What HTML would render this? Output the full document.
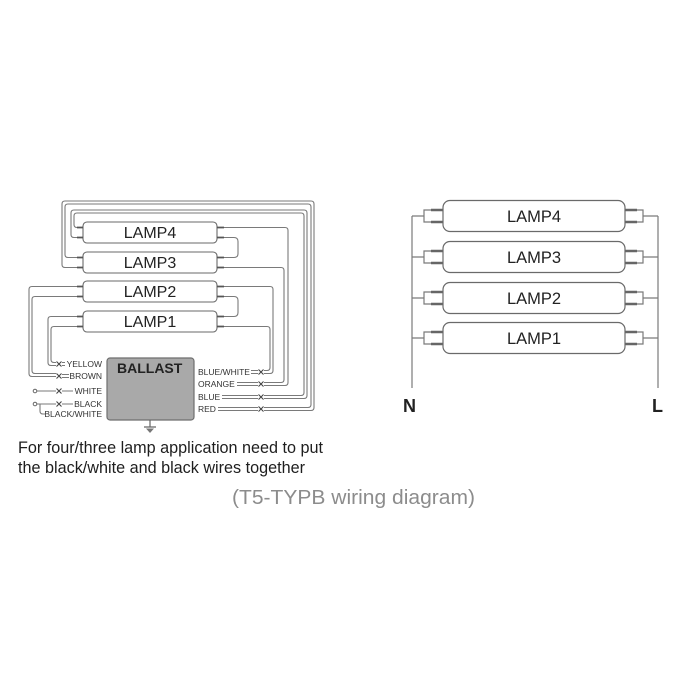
<!DOCTYPE html>
<html><head><meta charset="utf-8"><style>
html,body{margin:0;padding:0;background:#fff;}
svg{display:block;}
text{font-family:"Liberation Sans",Arial,sans-serif;}
</style></head><body>
<svg width="700" height="700" viewBox="0 0 700 700" xmlns="http://www.w3.org/2000/svg">
<rect width="700" height="700" fill="#fff"/>

<!-- LEFT DIAGRAM WIRES -->
<g fill="none" stroke="#7a7a7a" stroke-width="1.1">
  <!-- RED loop (LAMP3 left) -->
  <path d="M77,267.5 H65 Q62,267.5 62,264.5 V204 Q62,201 65,201 H311 Q314,201 314,204 V407.5 Q314,410.5 311,410.5 H264"/>
  <path d="M77,257.5 H68 Q65,257.5 65,254.5 V207 Q65,204 68,204 H308 Q311,204 311,207 V404.5 Q311,407.5 308,407.5 H264"/>
  <!-- BLUE loop (LAMP4 left) -->
  <path d="M77,237.5 H74 Q71,237.5 71,234.5 V213 Q71,210 74,210 H304 Q307,210 307,213 V395.5 Q307,398.5 304,398.5 H264"/>
  <path d="M77,227.5 Q74,227.5 74,224.5 V216 Q74,213 77,213 H301 Q304,213 304,216 V392.5 Q304,395.5 301,395.5 H264"/>
  <!-- ORANGE -->
  <path d="M224,227.5 H285 Q288,227.5 288,230.5 V382.5 Q288,385.5 285,385.5 H264"/>
  <path d="M224,267.5 H281 Q284,267.5 284,270.5 V379.5 Q284,382.5 281,382.5 H264"/>
  <!-- BLUE/WHITE -->
  <path d="M224,286.5 H270 Q273,286.5 273,289.5 V370.5 Q273,373.5 270,373.5 H264"/>
  <path d="M224,326.5 H267 Q270,326.5 270,329.5 V367.5 Q270,370.5 267,370.5 H264"/>
  <!-- jumper loops -->
  <path d="M224,237.5 H234 Q238,237.5 238,241.5 V253.5 Q238,257.5 234,257.5 H224"/>
  <path d="M224,296.5 H234 Q238,296.5 238,300.5 V312.5 Q238,316.5 234,316.5 H224"/>
  <!-- BROWN (LAMP2 left) -->
  <path d="M77,286.5 H32 Q29,286.5 29,289.5 V373.5 Q29,376.5 32,376.5 H56"/>
  <path d="M77,296.5 H35 Q32,296.5 32,299.5 V370.5 Q32,373.5 35,373.5 H56"/>
  <!-- YELLOW (LAMP1 left) -->
  <path d="M77,316.5 H51 Q48,316.5 48,319.5 V362.5 Q48,365.5 51,365.5 H56"/>
  <path d="M77,326.5 H54 Q51,326.5 51,329.5 V359.5 Q51,362.5 54,362.5 H56"/>
  <!-- left short leads after x -->
  <path d="M62,362.5 H65 M62,365.5 H65"/>
  <path d="M62,374.5 H69 M62,377.5 H69"/>
  <!-- WHITE / BLACK -->
  <path d="M37,391 H56 M62,391 H73"/>
  <path d="M37,404 H56 M62,404 H73"/>
  <path d="M40,404 V411 Q40,414 43,414 H45"/>
  <!-- right short leads before x -->
  <path d="M251,370.5 H258 M251,373.5 H258"/>
  <path d="M237,382.5 H258 M237,385.5 H258"/>
  <path d="M222,395.5 H258 M222,398.5 H258"/>
  <path d="M218,407.5 H258 M218,410.5 H258"/>
</g>
<!-- circles -->
<circle cx="35" cy="391" r="1.8" fill="#fff" stroke="#666" stroke-width="1"/>
<circle cx="35" cy="404" r="1.8" fill="#fff" stroke="#666" stroke-width="1"/>
<!-- x marks -->
<g stroke="#444" stroke-width="1.1">
  <path d="M56.5,361.5 L61.5,366.5 M61.5,361.5 L56.5,366.5"/>
  <path d="M56.5,373.5 L61.5,378.5 M61.5,373.5 L56.5,378.5"/>
  <path d="M56.5,388.5 L61.5,393.5 M61.5,388.5 L56.5,393.5"/>
  <path d="M56.5,401.5 L61.5,406.5 M61.5,401.5 L56.5,406.5"/>
  <path d="M258.5,369.5 L263.5,374.5 M263.5,369.5 L258.5,374.5"/>
  <path d="M258.5,381.5 L263.5,386.5 M263.5,381.5 L258.5,386.5"/>
  <path d="M258.5,394.5 L263.5,399.5 M263.5,394.5 L258.5,399.5"/>
  <path d="M258.5,406.5 L263.5,411.5 M263.5,406.5 L258.5,411.5"/>
</g>

<!-- LEFT LAMPS -->
<g fill="#fff" stroke="#6a6a6a" stroke-width="1.1">
  <rect x="83" y="222" width="134" height="21" rx="4"/>
  <rect x="83" y="252" width="134" height="21" rx="4"/>
  <rect x="83" y="281" width="134" height="21" rx="4"/>
  <rect x="83" y="311" width="134" height="21" rx="4"/>
</g>
<!-- pins -->
<g stroke="#555" stroke-width="1.8">
  <path d="M77,227.5 H83 M77,237.5 H83 M217,227.5 H224 M217,237.5 H224"/>
  <path d="M77,257.5 H83 M77,267.5 H83 M217,257.5 H224 M217,267.5 H224"/>
  <path d="M77,286.5 H83 M77,296.5 H83 M217,286.5 H224 M217,296.5 H224"/>
  <path d="M77,316.5 H83 M77,326.5 H83 M217,316.5 H224 M217,326.5 H224"/>
</g>
<g font-size="16" fill="#222" text-anchor="middle">
  <text x="150" y="238">LAMP4</text>
  <text x="150" y="268">LAMP3</text>
  <text x="150" y="297">LAMP2</text>
  <text x="150" y="327">LAMP1</text>
</g>

<!-- BALLAST -->
<rect x="107" y="358" width="87" height="62" rx="3" fill="#a9a9a9" stroke="#6e6e6e" stroke-width="1.2"/>
<text x="117" y="373" font-size="14" font-weight="bold" fill="#222">BALLAST</text>
<g stroke="#666" stroke-width="1.2" fill="none">
  <path d="M150,420 V427 M144,427 H156"/>
</g>
<path d="M146,428.5 L154,428.5 L150,433 Z" fill="#777"/>

<!-- wire labels -->
<g font-size="8.5" fill="#333">
  <text x="102" y="367" text-anchor="end">YELLOW</text>
  <text x="102" y="379" text-anchor="end">BROWN</text>
  <text x="102" y="394" text-anchor="end">WHITE</text>
  <text x="102" y="407" text-anchor="end">BLACK</text>
  <text x="102" y="417" text-anchor="end">BLACK/WHITE</text>
  <text x="198" y="375">BLUE/WHITE</text>
  <text x="198" y="387">ORANGE</text>
  <text x="198" y="400">BLUE</text>
  <text x="198" y="412">RED</text>
</g>

<!-- note text -->
<g font-size="16.2" fill="#1e1e1e">
  <text x="18" y="453">For four/three lamp application need to put</text>
  <text x="18" y="473">the black/white and black wires together</text>
</g>
<text x="232" y="504" font-size="20.5" fill="#8c8c8c" textLength="243" lengthAdjust="spacingAndGlyphs">(T5-TYPB wiring diagram)</text>

<!-- RIGHT DIAGRAM -->
<g fill="none" stroke="#7a7a7a" stroke-width="1.2">
  <path d="M412,216 V388 M658,216 V388"/>
  <path d="M412,216 H424 M412,257 H424 M412,298 H424 M412,338 H424"/>
  <path d="M643,216 H658 M643,257 H658 M643,298 H658 M643,338 H658"/>
  <!-- left brackets -->
  <path d="M443,210 H424 V222 H443"/>
  <path d="M443,251 H424 V263 H443"/>
  <path d="M443,292 H424 V304 H443"/>
  <path d="M443,332 H424 V344 H443"/>
  <!-- right brackets -->
  <path d="M625,210 H643 V222 H625"/>
  <path d="M625,251 H643 V263 H625"/>
  <path d="M625,292 H643 V304 H625"/>
  <path d="M625,332 H643 V344 H625"/>
</g>
<g stroke="#666" stroke-width="2.4">
  <path d="M431,210 H443 M431,222 H443 M431,251 H443 M431,263 H443 M431,292 H443 M431,304 H443 M431,332 H443 M431,344 H443"/>
  <path d="M625,210 H637 M625,222 H637 M625,251 H637 M625,263 H637 M625,292 H637 M625,304 H637 M625,332 H637 M625,344 H637"/>
</g>
<g fill="#fff" stroke="#6a6a6a" stroke-width="1.2">
  <rect x="443" y="200.5" width="182" height="31" rx="7"/>
  <rect x="443" y="241.5" width="182" height="31" rx="7"/>
  <rect x="443" y="282.5" width="182" height="31" rx="7"/>
  <rect x="443" y="322.5" width="182" height="31" rx="7"/>
</g>
<g font-size="16.5" fill="#222" text-anchor="middle">
  <text x="534" y="222">LAMP4</text>
  <text x="534" y="263">LAMP3</text>
  <text x="534" y="304">LAMP2</text>
  <text x="534" y="344">LAMP1</text>
</g>
<text x="403" y="412" font-size="18" font-weight="bold" fill="#222">N</text>
<text x="652" y="412" font-size="18" font-weight="bold" fill="#222">L</text>
</svg>
</body></html>
